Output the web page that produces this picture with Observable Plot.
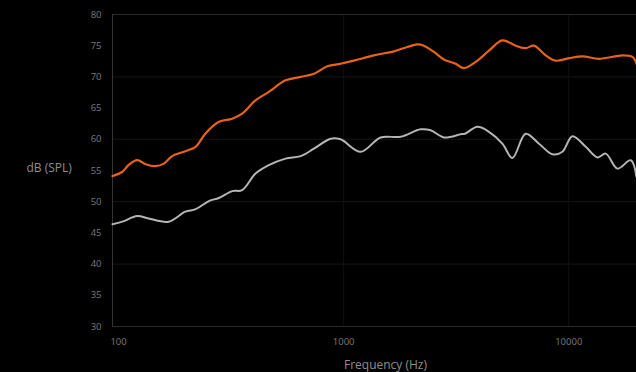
<!DOCTYPE html>
<html>
<head>
<meta charset="utf-8">
<script src="https://cdn.jsdelivr.net/npm/d3@7"></script>
<script src="https://cdn.jsdelivr.net/npm/@observablehq/plot@0.6"></script>
<style>
  html, body { margin: 0; padding: 0; background: #000; }
  #chart svg { display: block; }
</style>
</head>
<body>
<div id="chart"></div>
<script>
// Upper (orange) response
const freqUpper = [94, 104, 111, 121, 132, 146, 159, 173, 198, 220, 243, 279, 320, 354, 406, 465, 552, 644, 738, 846, 969, 1110, 1363, 1672, 1919, 2125, 2274, 2519, 2790, 3144, 3424, 3860, 4421, 5071, 5811, 6437, 7009, 7901, 8749, 10030, 11506, 13630, 17315, 19185, 20000];
const dbUpper   = [54.1, 54.8, 55.9, 56.65, 56.0, 55.7, 56.1, 57.3, 58.1, 58.8, 60.9, 62.8, 63.3, 64.1, 66.25, 67.6, 69.45, 70.0, 70.5, 71.7, 72.1, 72.6, 73.45, 74.1, 74.8, 75.2, 75.0, 74.0, 72.8, 72.1, 71.4, 72.4, 74.2, 75.85, 75.0, 74.6, 75.0, 73.45, 72.6, 73.0, 73.3, 72.9, 73.45, 73.2, 72.1];

// Lower (grey) response
const freqLower = [94, 104, 121, 136, 167, 198, 220, 252, 279, 320, 354, 406, 465, 552, 644, 738, 875, 969, 1189, 1460, 1791, 2198, 2435, 2790, 3310, 3460, 3927, 4421, 5071, 5618, 6437, 7376, 8460, 9372, 10380, 11900, 13415, 14600, 16460, 18856, 20000];
const dbLower   = [46.4, 46.8, 47.7, 47.3, 46.8, 48.4, 48.8, 50.1, 50.6, 51.7, 51.85, 54.5, 55.85, 56.9, 57.3, 58.5, 60.1, 60.0, 58.0, 60.3, 60.4, 61.6, 61.45, 60.3, 60.8, 60.9, 62.0, 61.2, 59.3, 57.0, 60.9, 59.3, 57.6, 58.0, 60.5, 58.8, 57.1, 57.7, 55.3, 56.65, 54.0];

const xTicks = [100, 1000, 10000];
const yTicks = [30, 35, 40, 45, 50, 55, 60, 65, 70, 75, 80];
const yGrid = [40, 50, 60, 70];
const xGrid = [1000, 10000];
const xDomain = [94, 20000];
const yDomain = [30, 80];

const upper = freqUpper.map((f, i) => ({f, db: dbUpper[i]}));
const lower = freqLower.map((f, i) => ({f, db: dbLower[i]}));

const chart = Plot.plot({
  width: 636,
  height: 372,
  marginLeft: 112,
  marginRight: 0,
  marginTop: 14,
  marginBottom: 46,
  style: {background: "#000", color: "#858585", fontFamily: "'Open Sans', sans-serif", fontSize: "9.5px"},
  x: {type: "log", domain: xDomain, label: null},
  y: {domain: yDomain, label: null},
  marks: [
    Plot.gridY(yGrid, {stroke: "#161616", strokeOpacity: 1}),
    Plot.gridX(xGrid, {stroke: "#101010", strokeOpacity: 1}),
    Plot.ruleY([yDomain[0], yDomain[1]], {stroke: "#2a2a2a"}),
    Plot.ruleX([xDomain[0]], {stroke: "#353535"}),
    Plot.axisX(xTicks, {tickSize: 0, tickPadding: 12, tickFormat: d => String(d), label: null, fill: "#7a7a7a"}),
    Plot.axisY(yTicks, {tickSize: 0, tickPadding: 11, label: null, fill: "#7a7a7a"}),
    Plot.line(lower, {x: "f", y: "db", stroke: "#b5b5b5", strokeWidth: 2, curve: "catmull-rom"}),
    Plot.line(upper, {x: "f", y: "db", stroke: "#e8621a", strokeWidth: 2.2, curve: "catmull-rom"}),
    Plot.text(["dB (SPL)"], {frameAnchor: "left", dx: -86, dy: -2, textAnchor: "start", fill: "#8e8e8e", fontSize: 12}),
    Plot.text(["Frequency (Hz)"], {frameAnchor: "bottom", dx: 11, dy: 42, fill: "#8e8e8e", fontSize: 12})
  ]
});
document.getElementById("chart").append(chart);
</script>
</body>
</html>
